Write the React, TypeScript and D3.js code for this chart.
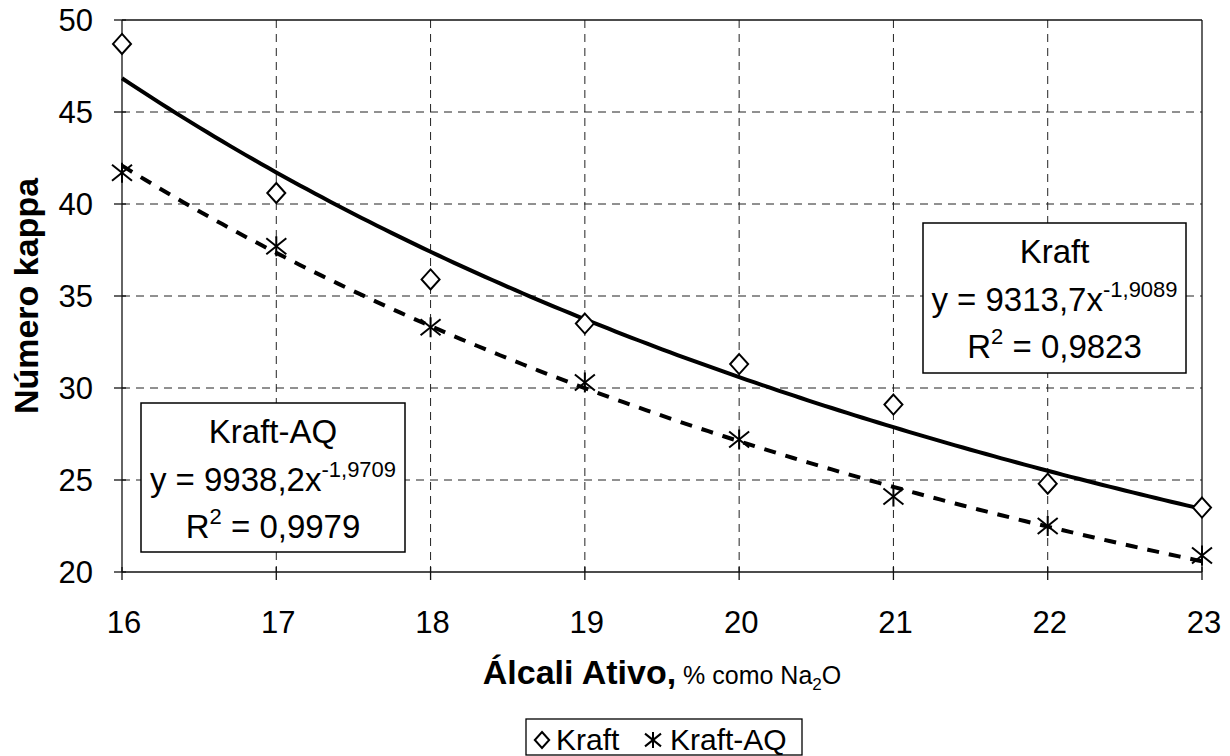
import * as d3 from 'd3'

// x categories (% alkali) and measured kappa numbers
const alkali = [16, 17, 18, 19, 20, 21, 22, 23]
const kraft = [48.7, 40.6, 35.9, 33.5, 31.3, 29.1, 24.8, 23.5]
const kraftAQ = [41.7, 37.7, 33.3, 30.3, 27.2, 24.1, 22.5, 20.9]

// power trend lines as printed on the chart: y = a * x^b
const kraftFit = { a: 9313.7, b: -1.9089, r2: '0,9823', label: 'Kraft', eq: 'y = 9313,7x', exp: '-1,9089' }
const kraftAQFit = { a: 9938.2, b: -1.9709, r2: '0,9979', label: 'Kraft-AQ', eq: 'y = 9938,2x', exp: '-1,9709' }

const yTicks = [20, 25, 30, 35, 40, 45, 50]
const xTicks = [16, 17, 18, 19, 20, 21, 22, 23]

const W = 1230
const H = 756
const FONT = 'Liberation Sans, Arial, Helvetica, sans-serif'

const x = d3.scaleLinear().domain([16, 23]).range([122, 1202])
const y = d3.scaleLinear().domain([20, 50]).range([572, 20])

function Diamond({ cx, cy, s = 10 }: { cx: number; cy: number; s?: number }) {
  return (
    <path
      d={`M${cx},${cy - s} L${cx + s * 0.9},${cy} L${cx},${cy + s} L${cx - s * 0.9},${cy} Z`}
      fill="white"
      stroke="black"
      strokeWidth={2}
    />
  )
}

function Star({ cx, cy, s = 10 }: { cx: number; cy: number; s?: number }) {
  return (
    <g stroke="black" strokeWidth={2}>
      <line x1={cx - s} y1={cy - s * 0.8} x2={cx + s} y2={cy + s * 0.8} />
      <line x1={cx - s} y1={cy + s * 0.8} x2={cx + s} y2={cy - s * 0.8} />
      <line x1={cx} y1={cy - s} x2={cx} y2={cy + s} />
    </g>
  )
}

function FitBox({ fit, left, top, right, bottom }: { fit: typeof kraftFit; left: number; top: number; right: number; bottom: number }) {
  const cx = (left + right) / 2
  return (
    <g>
      <rect x={left} y={top} width={right - left} height={bottom - top} fill="white" stroke="black" strokeWidth={1.5} />
      <text x={cx} y={top + 40} textAnchor="middle" fontSize={33}>{fit.label}</text>
      <text x={cx} y={top + 88} textAnchor="middle" fontSize={33}>
        {fit.eq}
        <tspan fontSize={22} dy={-14}>{fit.exp}</tspan>
      </text>
      <text x={cx} y={top + 135} textAnchor="middle" fontSize={33}>
        R<tspan fontSize={22} dy={-14}>2</tspan>
        <tspan dy={14}> = {fit.r2}</tspan>
      </text>
    </g>
  )
}

export default function App() {
  const xs = d3.range(16, 23.0001, 0.05)
  const kraftPath = d3.line<number>().x(d => x(d)).y(d => y(kraftFit.a * Math.pow(d, kraftFit.b)))(xs) || ''
  const aqPath = d3.line<number>().x(d => x(d)).y(d => y(kraftAQFit.a * Math.pow(d, kraftAQFit.b)))(xs) || ''

  const [x0, x1] = x.range()
  const [y0, y1] = y.range()

  return (
    <svg width={W} height={H} style={{ position: 'absolute', left: 0, top: 0, background: 'white' }} fontFamily={FONT}>
      {/* gridlines */}
      <g stroke="#222" strokeWidth={1} strokeDasharray="8,6">
        {yTicks.filter(t => t !== 20 && t !== 50).map(t => (
          <line key={'gy' + t} x1={x0} x2={x1} y1={y(t)} y2={y(t)} />
        ))}
        {xTicks.filter(t => t !== 16 && t !== 23).map(t => (
          <line key={'gx' + t} x1={x(t)} x2={x(t)} y1={y1} y2={y0} />
        ))}
      </g>
      {/* plot frame */}
      <g stroke="#111" strokeWidth={1.3} fill="none">
        <line x1={x0} x2={x1} y1={y1} y2={y1} />
        <line x1={x1} x2={x1} y1={y1} y2={y0} />
        <line x1={x0} x2={x1} y1={y0} y2={y0} />
        <line x1={x0} x2={x0} y1={y1} y2={y0} />
      </g>
      {/* ticks */}
      <g stroke="#111" strokeWidth={1.3}>
        {yTicks.map(t => (
          <line key={'ty' + t} x1={x0 - 8} x2={x0 + 4} y1={y(t)} y2={y(t)} />
        ))}
        {xTicks.map(t => (
          <line key={'tx' + t} x1={x(t)} x2={x(t)} y1={y0 - 5} y2={y0 + 8} />
        ))}
      </g>
      {/* tick labels */}
      <g fontSize={31} fill="black">
        {yTicks.map(t => (
          <text key={'ly' + t} x={x0 - 29} y={y(t) + 11} textAnchor="end">{t}</text>
        ))}
        {xTicks.map(t => (
          <text key={'lx' + t} x={x(t) + 2} y={633} textAnchor="middle">{t}</text>
        ))}
      </g>

      {/* trend lines */}
      <path d={kraftPath} fill="none" stroke="black" strokeWidth={4} />
      <path d={aqPath} fill="none" stroke="black" strokeWidth={4} strokeDasharray="12,10" />

      {/* markers */}
      {alkali.map((a, i) => (
        <Diamond key={'k' + a} cx={x(a)} cy={y(kraft[i])} />
      ))}
      {alkali.map((a, i) => (
        <Star key={'q' + a} cx={x(a)} cy={y(kraftAQ[i])} />
      ))}

      {/* equation boxes */}
      <FitBox fit={kraftFit} left={923} top={223} right={1186} bottom={373} />
      <FitBox fit={kraftAQFit} left={141} top={403} right={405} bottom={552} />

      {/* axis titles */}
      <text transform={`translate(38,${(y0 + y1) / 2}) rotate(-90)`} textAnchor="middle" fontSize={34} fontWeight="bold">
        Número kappa
      </text>
      <text x={(x0 + x1) / 2} y={684} textAnchor="middle">
        <tspan fontSize={34} fontWeight="bold">Álcali Ativo,</tspan>
        <tspan fontSize={25}> % como Na</tspan>
        <tspan fontSize={17} dy={6}>2</tspan>
        <tspan fontSize={25} dy={-6}>O</tspan>
      </text>

      {/* legend */}
      <rect x={526} y={719} width={276} height={36} fill="white" stroke="black" strokeWidth={1.3} />
      <Diamond cx={542} cy={740} s={8} />
      <text x={556} y={750} fontSize={30}>Kraft</text>
      <Star cx={653} cy={740} s={8} />
      <text x={670} y={750} fontSize={30}>Kraft-AQ</text>
    </svg>
  )
}
